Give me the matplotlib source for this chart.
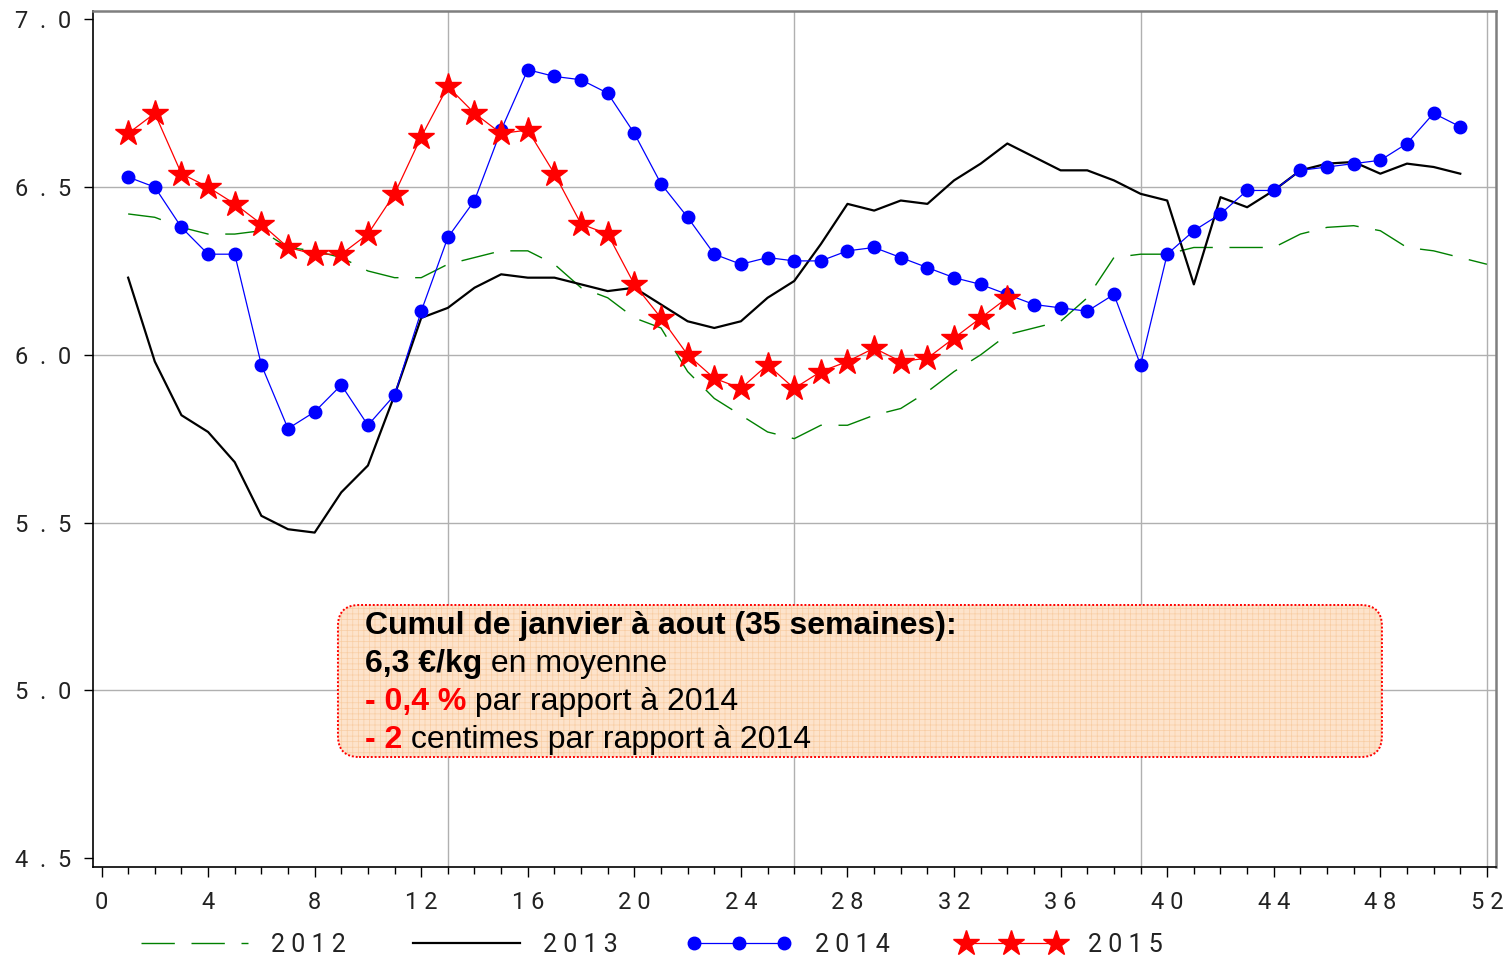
import matplotlib
matplotlib.use("Agg")
import matplotlib.pyplot as plt
from matplotlib.patches import FancyBboxPatch
from matplotlib.legend_handler import HandlerLine2D

# weekly prices (euro/kg)
weeks_2012 = list(range(1, 53))
prix_2012 = [6.42, 6.41, 6.38, 6.36, 6.36, 6.37, 6.32, 6.31, 6.29, 6.25,
             6.23, 6.23, 6.27, 6.29, 6.31, 6.31, 6.27, 6.20, 6.17, 6.11,
             6.08, 5.95, 5.87, 5.82, 5.77, 5.75, 5.79, 5.79, 5.82, 5.84,
             5.89, 5.95, 6.00, 6.06, 6.08, 6.10, 6.17, 6.29, 6.30, 6.30,
             6.32, 6.32, 6.32, 6.32, 6.36, 6.38, 6.385, 6.37, 6.32, 6.31,
             6.29, 6.27]

weeks_2013 = list(range(1, 52))
prix_2013 = [6.23, 5.98, 5.82, 5.77, 5.68, 5.52, 5.48, 5.47, 5.59, 5.67,
             5.88, 6.11, 6.14, 6.20, 6.24, 6.23, 6.23, 6.21, 6.19, 6.20,
             6.15, 6.10, 6.08, 6.10, 6.17, 6.22, 6.33, 6.45, 6.43, 6.46,
             6.45, 6.52, 6.57, 6.63, 6.59, 6.55, 6.55, 6.52, 6.48, 6.46,
             6.21, 6.47, 6.44, 6.49, 6.55, 6.57, 6.575, 6.54, 6.57, 6.56,
             6.54]

weeks_2014 = list(range(1, 52))
prix_2014 = [6.53, 6.50, 6.38, 6.30, 6.30, 5.97, 5.78, 5.83, 5.91, 5.79,
             5.88, 6.13, 6.35, 6.46, 6.67, 6.85, 6.83, 6.82, 6.78, 6.66,
             6.51, 6.41, 6.30, 6.27, 6.29, 6.28, 6.28, 6.31, 6.32, 6.29,
             6.26, 6.23, 6.21, 6.18, 6.15, 6.14, 6.13, 6.18, 5.97, 6.30,
             6.37, 6.42, 6.49, 6.49, 6.55, 6.56, 6.57, 6.58, 6.63, 6.72,
             6.68]

weeks_2015 = list(range(1, 35))
prix_2015 = [6.66, 6.72, 6.54, 6.50, 6.45, 6.39, 6.32, 6.30, 6.30, 6.36,
             6.48, 6.65, 6.80, 6.72, 6.66, 6.67, 6.54, 6.39, 6.36, 6.21,
             6.11, 6.00, 5.93, 5.90, 5.97, 5.90, 5.95, 5.98, 6.02, 5.98,
             5.99, 6.05, 6.11, 6.17]

x_ticks = list(range(0, 53, 4))
y_ticks = [4.5, 5.0, 5.5, 6.0, 6.5, 7.0]
grid_weeks = [13, 26, 39, 52]
labels = ["2 0 1 2", "2 0 1 3", "2 0 1 4", "2 0 1 5"]

tick_font = ["Roboto", "DejaVu Sans"]
box_font = ["Liberation Sans Narrow", "Liberation Sans", "DejaVu Sans"]

fig = plt.figure(figsize=(15.1, 9.58), dpi=100)
ax = fig.add_axes([0.0614, 0.0950, 0.9293, 0.8935])

# grid
for w in grid_weeks:
    ax.axvline(w, color="#b0b0b0", lw=1.0, zorder=0)
for v in y_ticks[1:-1]:
    ax.axhline(v, color="#b0b0b0", lw=1.0, zorder=0)

ax.plot(weeks_2012, prix_2012, color="#008000", lw=1.0, dashes=(24, 12),
        label=labels[0])
ax.plot(weeks_2013, prix_2013, color="black", lw=1.6, label=labels[1])
l14, = ax.plot(weeks_2014, prix_2014, color="#0000ff", lw=0.9, marker="o",
               markersize=9, label=labels[2])
l15, = ax.plot(weeks_2015, prix_2015, color="#ff0000", lw=0.9, marker="*",
               markersize=19, label=labels[3])

ax.set_xlim(-0.33, 52.34)
ax.set_ylim(4.473, 7.025)
ax.set_xticks(x_ticks)
ax.set_xticks(range(0, 53), minor=True)
ax.set_xticklabels([" ".join(str(t)) for t in x_ticks], family=tick_font,
                   fontsize=17, color="#222222")
ax.set_yticks(y_ticks)
ax.set_yticklabels(["  .  ".join(f"{v:.1f}".split(".")) for v in y_ticks],
                   family=tick_font, fontsize=17, color="#222222")
ax.tick_params(axis="x", which="major", length=7, width=1, pad=10)
ax.tick_params(axis="x", which="minor", length=5, width=1)
ax.tick_params(axis="y", length=6.5, width=1, pad=9)

for side in ["left", "bottom"]:
    ax.spines[side].set_color("black")
    ax.spines[side].set_linewidth(1.2)
for side in ["top", "right"]:
    ax.spines[side].set_color("#7f7f7f")
    ax.spines[side].set_linewidth(1.8)

leg = ax.legend(loc="center", bbox_to_anchor=(0.429, 0.0136),
                bbox_transform=fig.transFigure, ncol=4, frameon=False,
                numpoints=3, handlelength=4.9, handletextpad=0.6,
                columnspacing=2.4, prop={"family": tick_font, "size": 18},
                handler_map={l14: HandlerLine2D(marker_pad=0.65),
                             l15: HandlerLine2D(marker_pad=0.65)})
for t in leg.get_texts():
    t.set_color("#222222")

# summary box
plt.rcParams["hatch.linewidth"] = 0.5
box_x, box_y, box_w, box_h = 0.2238, 0.2098, 0.6914, 0.1587
aspect = 1510 / 958
fill = FancyBboxPatch((box_x, box_y), box_w, box_h,
                      boxstyle="round,pad=0,rounding_size=0.014",
                      mutation_aspect=aspect, transform=fig.transFigure,
                      facecolor="#fde3cb", edgecolor="#f8cda3", hatch="+++",
                      lw=0, zorder=5)
border = FancyBboxPatch((box_x, box_y), box_w, box_h,
                        boxstyle="round,pad=0,rounding_size=0.014",
                        mutation_aspect=aspect, transform=fig.transFigure,
                        facecolor="none", edgecolor="#ff0000", lw=1.4,
                        linestyle=(0, (1, 1)), zorder=6)
fig.patches.extend([fill, border])

lines = [
    [("Cumul de janvier à aout (35 semaines):", "black", "bold")],
    [("6,3 €/kg", "black", "bold"), (" en moyenne", "black", "normal")],
    [("- 0,4 %", "#ff0000", "bold"), (" par rapport à 2014", "black", "normal")],
    [("- 2", "#ff0000", "bold"), (" centimes par rapport à 2014", "black", "normal")],
]
baselines = [0.3382, 0.2985, 0.2589, 0.2192]

fig.canvas.draw()
renderer = fig.canvas.get_renderer()
for y, parts in zip(baselines, lines):
    x = 0.2417
    for s, color, weight in parts:
        t = fig.text(x, y, s, color=color, fontweight=weight, fontsize=23,
                     family=box_font, va="baseline", zorder=7)
        x += t.get_window_extent(renderer).width / fig.bbox.width

fig.savefig("out.png", dpi=100)
